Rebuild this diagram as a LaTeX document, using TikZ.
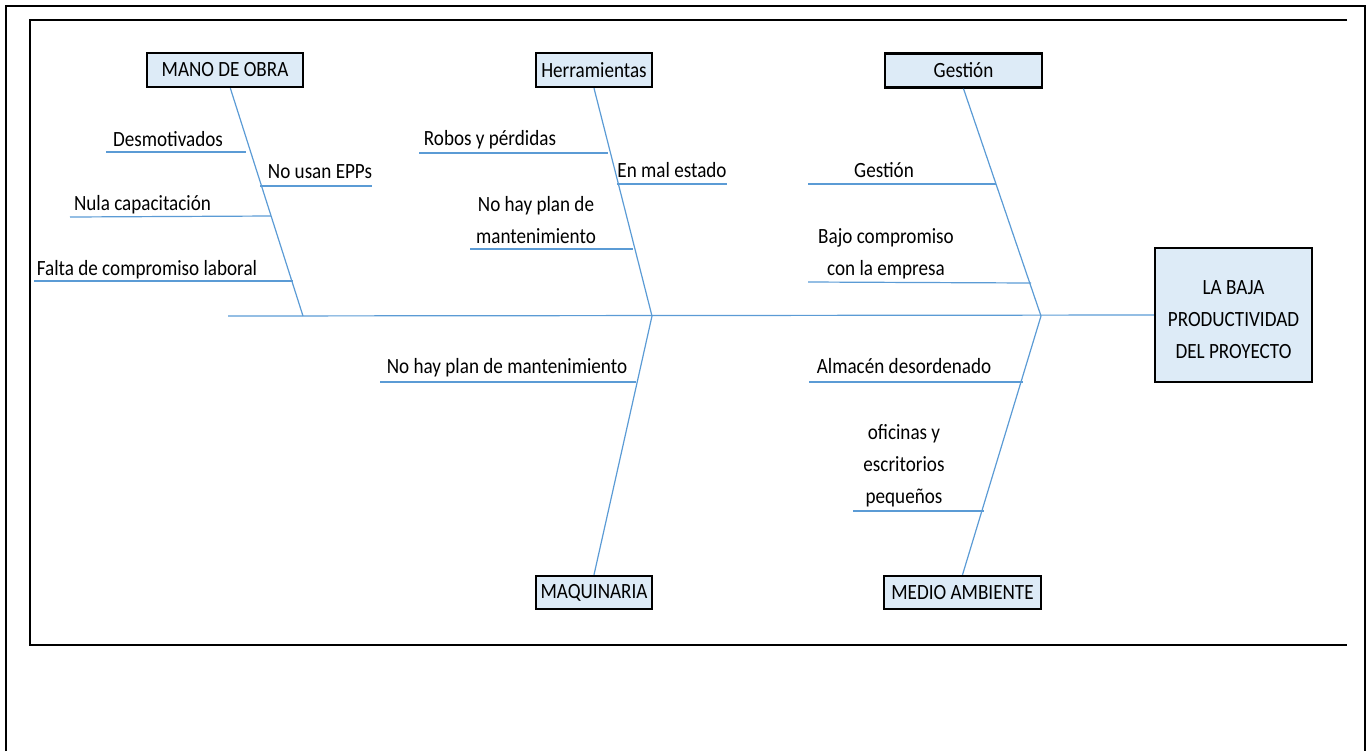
\documentclass[tikz,border=0pt]{standalone}
\usepackage{fontspec}
\setmainfont{Carlito}[FakeStretch=0.88]
\usetikzlibrary{calc}
\definecolor{bone}{HTML}{5B9BD5}
\definecolor{boxfill}{HTML}{DDEBF7}
\begin{document}
\begin{tikzpicture}[x=0.75pt,y=-0.75pt,
  every node/.style={font=\fontsize{16.3}{24}\selectfont},
  frame/.style={line width=1.5pt,black},
  bonestyle/.style={line width=0.9pt,bone},
  catbox/.style={draw=black,line width=1.8pt,fill=boxfill,inner sep=0pt,minimum height=25.5pt},
  effectbox/.style={draw=black,line width=1.8pt,fill=boxfill,inner sep=0pt,
     minimum width=117.75pt,minimum height=100.5pt},
  cause/.style={anchor=base,inner sep=0pt},
  mcause/.style={anchor=base,inner sep=0pt,align=center}]
\useasboundingbox (0,0) rectangle (1372,751);

% page frames
\draw[frame] (6,751) -- (6,6) -- (1365,6) -- (1365,751);
\draw[frame] (1347,20) -- (30,20) -- (30,645) -- (1347,645);

% effect and categories
\node[effectbox] (effect) at (1233.5,315)
  {\raisebox{-3.5pt}[\height][\depth]{\begin{tabular}{@{}c@{}}LA BAJA\\PRODUCTIVIDAD\\DEL PROYECTO\end{tabular}}};
\node[catbox,minimum width=117pt] (mo) at (225,70) {MANO DE OBRA};
\node[catbox,minimum width=87pt] (he) at (594,70) {Herramientas};
\node[catbox,minimum width=117.75pt] (ge) at (963.5,70.5) {Gestión};
\node[catbox,minimum width=87pt,minimum height=24.75pt] (mq) at (594,592.5) {MAQUINARIA};
\node[catbox,minimum width=117.75pt,minimum height=24.75pt] (ma) at (962.5,592.5) {MEDIO AMBIENTE};

% spine and main bones
\coordinate (tail) at (228,316);
\coordinate (j1) at (303,316);
\coordinate (j2) at (652,316);
\coordinate (j3) at (1041,316);
\draw[bonestyle] (tail) -- (effect.west);
\draw[bonestyle] ([xshift=4]mo.south) -- (j1);
\draw[bonestyle] (he.south) -- (j2);
\draw[bonestyle] (ge.south) -- (j3);
\draw[bonestyle] (j2) -- (mq.north);
\draw[bonestyle] (j3) -- (ma.north);

% MANO DE OBRA causes
\coordinate (d1a) at (106,152); \coordinate (d1b) at (246,152);
\coordinate (d2a) at (260,186); \coordinate (d2b) at (372,186);
\coordinate (d3a) at (70,217);  \coordinate (d3b) at (271,216);
\coordinate (d4a) at (34,281);  \coordinate (d4b) at (293,281);
\draw[bonestyle] (d1a) -- (d1b);
\draw[bonestyle] (d2a) -- (d2b);
\draw[bonestyle] (d3a) -- (d3b);
\draw[bonestyle] (d4a) -- (d4b);
\node[cause] (c1) at (168,146) {Desmotivados};
\node[cause] (c2) at (320,178) {No usan EPPs};
\node[cause] (c3) at (142.5,210) {Nula capacitación};
\node[cause] (c4) at (147,275) {Falta de compromiso laboral};

% Herramientas causes
\coordinate (h1a) at (419,153); \coordinate (h1b) at (608,153);
\coordinate (h2a) at (617,184); \coordinate (h2b) at (727,184);
\coordinate (h3a) at (470,249); \coordinate (h3b) at (633,249);
\draw[bonestyle] (h1a) -- (h1b);
\draw[bonestyle] (h2a) -- (h2b);
\draw[bonestyle] (h3a) -- (h3b);
\node[cause] (c5) at (490,145) {Robos y pérdidas};
\node[cause] (c6) at (672,177) {En mal estado};
\node[mcause] (c7) at (536,243) {No hay plan de\\mantenimiento};

% Gestión causes
\coordinate (g1a) at (808,184); \coordinate (g1b) at (996,184);
\coordinate (g2a) at (808,282); \coordinate (g2b) at (1031,283);
\draw[bonestyle] (g1a) -- (g1b);
\draw[bonestyle] (g2a) -- (g2b);
\node[cause] (c8) at (884,177) {Gestión};
\node[mcause] (c9) at (886,275) {Bajo compromiso\\con la empresa};

% MAQUINARIA causes
\coordinate (m1a) at (380,382); \coordinate (m1b) at (636,382);
\draw[bonestyle] (m1a) -- (m1b);
\node[cause] (c10) at (507,373) {No hay plan de mantenimiento};

% MEDIO AMBIENTE causes
\coordinate (a1a) at (809,382); \coordinate (a1b) at (1023,382);
\coordinate (a2a) at (853,511); \coordinate (a2b) at (984,511);
\draw[bonestyle] (a1a) -- (a1b);
\draw[bonestyle] (a2a) -- (a2b);
\node[cause] (c11) at (904,373) {Almacén desordenado};
\node[mcause] (c12) at (904,503) {oficinas y\\escritorios\\pequeños};
\end{tikzpicture}
\end{document}
